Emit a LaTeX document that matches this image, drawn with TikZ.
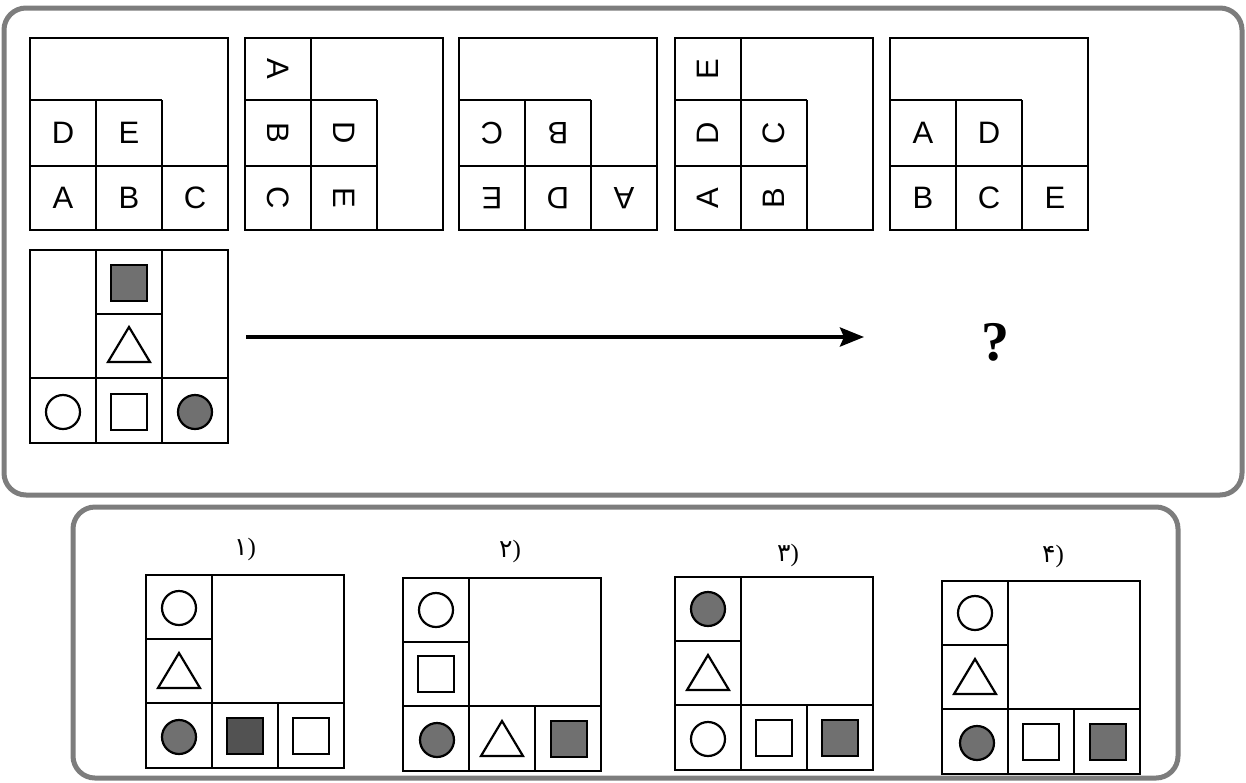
\documentclass[tikz,border=0pt]{standalone}
\usepackage{fontspec}
\setmainfont{Liberation Sans}
\newfontfamily\qfont{Liberation Serif}
\newfontfamily\arabicfont[Script=Arabic]{DejaVu Sans}
\usetikzlibrary{arrows.meta}
\definecolor{panelgray}{RGB}{125,125,125}
\definecolor{shapegray}{RGB}{112,112,112}
\definecolor{shapedark}{RGB}{82,82,82}

\newcommand\gridLa[2]{\begin{scope}[shift={(#1,#2)}]
 \draw[gridln] (0,0) rectangle (198,192);
 \draw[gridln] (0,62) -- (132,62) (0,128) -- (198,128) (66,62) -- (66,192) (132,62) -- (132,192);
\end{scope}}
\newcommand\gridLb[2]{\begin{scope}[shift={(#1,#2)}]
 \draw[gridln] (0,0) rectangle (198,192);
 \draw[gridln] (66,0) -- (66,192) (0,62) -- (132,62) (0,128) -- (132,128) (132,62) -- (132,192);
\end{scope}}
\newcommand\gridOpt[2]{\begin{scope}[shift={(#1,#2)}]
 \draw[gridln] (0,0) rectangle (198,193);
 \draw[gridln] (66,0) -- (66,193) (0,64) -- (66,64) (0,128) -- (198,128) (132,128) -- (132,193);
\end{scope}}
\newcommand\optnum[1]{{\arabicfont #1}{\qfont)}}

\begin{document}
\begin{tikzpicture}[x=1pt,y=-1pt,
  gridln/.style={draw=black, line width=2.8pt},
  panel/.style={draw=panelgray, line width=5pt, rounded corners=22pt},
  ltr/.style={font=\fontsize{31}{31}\selectfont, inner sep=0pt},
  shp/.style={draw=black, line width=2.2pt},
  optlab/.style={font=\fontsize{25}{25}\selectfont, inner sep=0pt},
  tri/.pic={\draw[shp, line join=miter] (-21,17) -- (0,-18) -- (21,17) -- cycle;},
  wsq/.pic={\draw[shp] (-18,-18) rectangle (18,18);},
  gsq/.pic={\draw[shp, fill=shapegray] (-18,-18) rectangle (18,18);},
  dsq/.pic={\draw[shp, fill=shapedark] (-18,-18) rectangle (18,18);},
  wcirc/.pic={\draw[shp] (0,0) circle (17pt);},
  gcirc/.pic={\draw[shp, fill=shapegray] (0,0) circle (17pt);},
]
\useasboundingbox (0,0) rectangle (1246,782);
\fill[white] (0,0) rectangle (1246,782);

% panels
\draw[panel] (4,8) rectangle (1242,495);
\draw[panel] (73,507) rectangle (1178,778);

% top row of letter boxes
\gridLa{30}{38}
\node[ltr] (b1D) at (63,133) {D};
\node[ltr] (b1E) at (129,133) {E};
\node[ltr] (b1A) at (63,198) {A};
\node[ltr] (b1B) at (129,198) {B};
\node[ltr] (b1C) at (195,198) {C};

\gridLb{245}{38}
\node[ltr, rotate=-90] (b2A) at (278,69) {A};
\node[ltr, rotate=-90] (b2B) at (278,133) {B};
\node[ltr, rotate=-90] (b2C) at (278,198) {C};
\node[ltr, rotate=-90] (b2D) at (344,133) {D};
\node[ltr, rotate=-90] (b2E) at (344,198) {E};

\gridLa{459}{38}
\node[ltr, rotate=180] (b3C) at (492,133) {C};
\node[ltr, rotate=180] (b3B) at (558,133) {B};
\node[ltr, rotate=180] (b3E) at (492,198) {E};
\node[ltr, rotate=180] (b3D) at (558,198) {D};
\node[ltr, rotate=180] (b3A) at (624,198) {A};

\gridLb{675}{38}
\node[ltr, rotate=90] (b4E) at (708,69) {E};
\node[ltr, rotate=90] (b4D) at (708,133) {D};
\node[ltr, rotate=90] (b4C) at (774,133) {C};
\node[ltr, rotate=90] (b4A) at (708,198) {A};
\node[ltr, rotate=90] (b4B) at (774,198) {B};

\gridLa{890}{38}
\node[ltr] (b5A) at (923,133) {A};
\node[ltr] (b5D) at (989,133) {D};
\node[ltr] (b5B) at (923,198) {B};
\node[ltr] (b5C) at (989,198) {C};
\node[ltr] (b5E) at (1055,198) {E};

% shape box
\begin{scope}[shift={(30,250)}]
 \draw[gridln] (0,0) rectangle (198,193);
 \draw[gridln] (66,0) -- (66,193) (132,0) -- (132,193) (66,64) -- (132,64) (0,128) -- (198,128);
\end{scope}
\pic at (129,283) {gsq};
\pic at (129,345) {tri};
\pic at (63,412) {wcirc};
\pic at (129,412) {wsq};
\pic at (195,412) {gcirc};

% arrow and question mark
\coordinate (arrS) at (246,337);
\coordinate (arrE) at (864,337);
\draw[line width=4pt, -{Stealth[length=24pt,width=19pt,inset=4pt]}] (arrS) -- (arrE);
\node[font=\qfont\bfseries\fontsize{56}{56}\selectfont, inner sep=0pt] (q) at (995,342) {?};

% options
\node[optlab] (lab1) at (245,549) {\optnum{۱}};
\gridOpt{146}{575}
\pic at (179,608) {wcirc};
\pic at (179,671) {tri};
\pic at (179,737) {gcirc};
\pic at (245,736) {dsq};
\pic at (311,736) {wsq};

\node[optlab] (lab2) at (510,551) {\optnum{۲}};
\gridOpt{403}{578}
\pic at (436,610) {wcirc};
\pic at (436,674) {wsq};
\pic at (437,740) {gcirc};
\pic at (502,739) {tri};
\pic at (569,739) {gsq};

\node[optlab] (lab3) at (788,555) {\optnum{۳}};
\gridOpt{675}{577}
\pic at (708,609) {gcirc};
\pic at (708,673) {tri};
\pic at (708,739) {wcirc};
\pic at (774,738) {wsq};
\pic at (840,738) {gsq};

\node[optlab] (lab4) at (1053,556) {\optnum{۴}};
\gridOpt{942}{581}
\pic at (975,613) {wcirc};
\pic at (975,677) {tri};
\pic at (977,743) {gcirc};
\pic at (1041,742) {wsq};
\pic at (1108,742) {gsq};
\end{tikzpicture}
\end{document}
